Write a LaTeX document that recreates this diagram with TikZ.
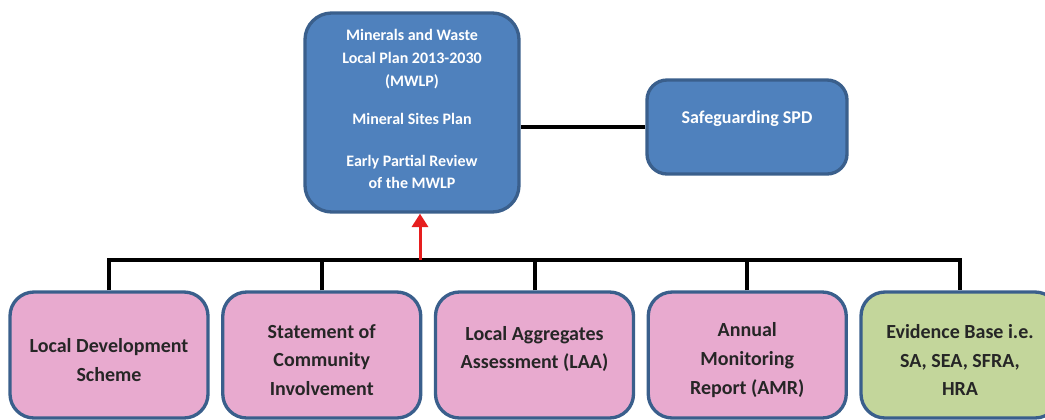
\documentclass[tikz,border=0pt]{standalone}
\usepackage{fontspec}
\setmainfont{Carlito}
\usepackage{tikz}
\usetikzlibrary{positioning}
\usetikzlibrary{arrows.meta}
\definecolor{planblue}{RGB}{79,129,189}
\definecolor{edgeblue}{RGB}{58,95,140}
\definecolor{docpink}{RGB}{232,170,207}
\definecolor{evidgreen}{RGB}{195,214,155}
\definecolor{linkred}{RGB}{230,30,30}
\newcommand{\toppad}{\rule{0pt}{18pt}}
\tikzset{box/.style={draw=edgeblue, line width=2.5pt, align=center, font=\bfseries}}
\tikzset{planbox/.style={box, fill=planblue, text=white, rounded corners=20pt}}
\tikzset{docbox/.style={box, fill=docpink, text=black!85, rounded corners=18pt,
  minimum width=148.5pt, minimum height=94.5pt, font=\bfseries\fontsize{15}{21.5}\selectfont}}
\tikzset{link/.style={line width=3pt}}

\begin{document}
\begin{tikzpicture}[x=0.75pt,y=-0.75pt]
\useasboundingbox (0,0) rectangle (1045,419);
\clip (0,0) rectangle (1045,419);
\node[planbox, minimum width=160.5pt, minimum height=149.25pt, font=\bfseries\fontsize{12}{17}\selectfont] (plan) at (412,112.5)
  {Minerals and Waste\\Local Plan 2013-2030\\(MWLP)\\[12pt]Mineral Sites Plan\\[14pt]Early Partial Review\\of the MWLP\\[-12pt]\mbox{}};
\node[planbox, rounded corners=15pt, minimum width=150pt, minimum height=70.5pt, font=\bfseries\fontsize{13.5}{17}\selectfont] (sg) at (747,127)
  {\raisebox{15pt}{Safeguarding SPD}};
\draw[link] (sg.west) -- (sg.west -| plan.east);
\node[docbox] (lds) at (109,355) {\toppad Local Development\\Scheme};
\node[docbox] (sci) at (321.75,355) {\toppad Statement of\\Community\\Involvement};
\node[docbox] (laa) at (534.5,355) {Local Aggregates\\Assessment (LAA)\\[-10pt]\mbox{}};
\node[docbox] (amr) at (747.25,355) {\toppad Annual\\Monitoring\\Report (AMR)};
\node[docbox, fill=evidgreen] (evb) at (960,355) {\toppad Evidence Base i.e.\\SA, SEA, SFRA,\\HRA};
\coordinate (tap) at (420,260);
\draw[link] (lds.north) |- (evb.north |- tap) -- (evb.north);
\foreach \n in {sci,laa,amr}
  \draw[link] (\n.north) -- (\n.north |- tap);
\draw[linkred, line width=2.25pt, -{Triangle[width=12pt,length=10pt]}] (tap) -- (tap |- plan.south);
\end{tikzpicture}
\end{document}
